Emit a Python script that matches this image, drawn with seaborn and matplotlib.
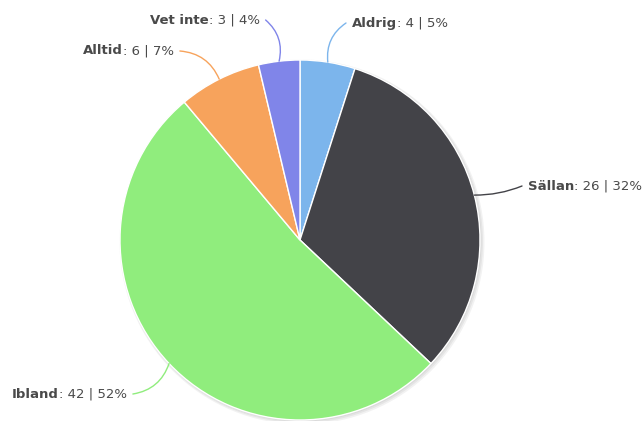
import numpy as np
import matplotlib
matplotlib.use("Agg")
import matplotlib.pyplot as plt
from matplotlib.patches import Circle
import seaborn as sns

sns.set_theme(style="white")
plt.rcParams['font.family'] = ['DejaVu Sans']

categories = ["Aldrig", "Sällan", "Ibland", "Alltid", "Vet inte"]
values = [4, 26, 42, 6, 3]
percents = [5, 32, 52, 7, 4]
colors = ["#7cb5ec", "#434348", "#90ed7d", "#f7a35c", "#8085e9"]

W, H = 644, 421
fig = plt.figure(figsize=(W / 100, H / 100), dpi=100)
ax = fig.add_axes([0, 0, 1, 1])

cx, cy, R = 300, H - 240, 180
# subtle shadow
for i, a in enumerate([0.05, 0.05, 0.05]):
    ax.add_patch(Circle((cx + 1 + i * 0.5, cy - 1 - i * 0.5), R + 0.5 + i, color="black",
                        alpha=a, lw=0, zorder=0))
wedges, _ = ax.pie(values, colors=colors, startangle=90, counterclock=False,
                   center=(cx, cy), radius=R, frame=True,
                   wedgeprops=dict(edgecolor="white", linewidth=1, zorder=1))
ax.set_xlim(0, W)
ax.set_ylim(0, H)
ax.axis("off")

# label placement (text position in px from top-left, connector curvature)
label_pos = {
    "Aldrig": (352, 23, 0.3),
    "Sällan": (528, 186, -0.1),
    "Ibland": (12, 394, 0.3),
    "Alltid": (83, 51, -0.3),
    "Vet inte": (150, 20, -0.3),
}
fs = 9.5
tc = "#4a4a4a"
fig.canvas.draw()
renderer = fig.canvas.get_renderer()
for w, cat, v, p, col in zip(wedges, categories, values, percents, colors):
    ang = np.deg2rad((w.theta1 + w.theta2) / 2)
    ax_, ay_ = cx + R * np.cos(ang), cy + R * np.sin(ang)
    tx, ty, rad = label_pos[cat]
    ty = H - ty
    t1 = ax.text(tx, ty, cat, fontsize=fs, fontweight="bold", color=tc,
                 ha="left", va="center")
    t2 = ax.annotate(f": {v} | {p}%", xy=(1, 0.5), xycoords=t1, fontsize=fs,
                     color=tc, ha="left", va="center")
    fig.canvas.draw()
    b1 = t1.get_window_extent(renderer)
    b2 = t2.get_window_extent(renderer)
    if tx > cx:
        ex = b1.x0 - 6
    else:
        ex = b2.x1 + 6
    ey = ty
    ax.annotate("", xy=(ax_, ay_), xytext=(ex, ey),
                arrowprops=dict(arrowstyle="-", color=col, lw=1,
                                connectionstyle=f"arc3,rad={rad}",
                                shrinkA=0, shrinkB=0))

fig.savefig("out.png", dpi=100)
